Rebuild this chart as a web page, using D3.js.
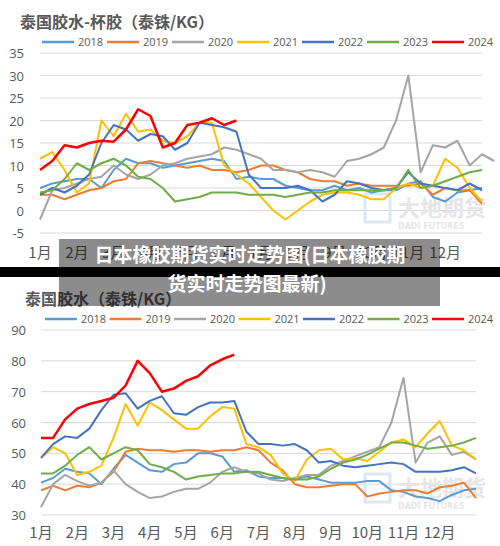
<!DOCTYPE html><html><head><meta charset="utf-8"><script src="https://cdn.jsdelivr.net/npm/d3@7"></script>
<style>body{margin:0;background:#fff}svg{display:block;font-family:"Noto Sans CJK SC",sans-serif}</style></head><body><svg id="c" width="500" height="546"></svg>
<script>
const years=["2018","2019","2020","2021","2022","2023","2024"];
const colors=["#5B9BD5","#ED7D31","#A5A5A5","#FFC000","#4472C4","#70AD47","#FF0000"];
const months=["1月","2月","3月","4月","5月","6月","7月","8月","9月","10月","11月","12月"];
const topTicks=[35,30,25,20,15,10,5,0,-5];
const botTicks=[90,80,70,60,50,40,30];
// values sampled every 1/3 month from Jan 1
const cup2018=[5,6,6.5,7,7,5,9,11.5,10.5,10.5,9.5,10,10.5,11,11.5,11,7,7.5,7,7,5.5,5,4.5,4.5,5.5,4.5,5,4,4.5,4.5,6,6.5,3,2,4,4.5,5];
const cup2019=[3.5,3.5,2.5,3.5,4.5,5,6.5,7,10.5,11,10.5,10,9.5,10,9,9,8.5,9,10,10,9,8.5,7,6.5,6.5,5.5,6,5.5,5.5,5.5,5.5,6,3.5,5,4.5,4.5,1.5];
const cup2020=[-2,4.5,5,6,7,7.5,10,8,7,8,10,10.5,11.5,12,12.5,14,13.5,12.5,11.5,9,9,8.5,9,8.5,7.5,11,11.5,12.5,14,20,30,8.5,14.5,14,15.5,10,12.5,11];
const cup2021=[11.5,13,9,4,6,20,16.5,21.5,17.5,18,15.5,15,16.5,19.5,19.5,10,8,6,3,0,-2,0,2,3.5,4,4,3.5,2.5,2.5,5,6,5,5.5,11.5,9.5,5,2];
const cup2022=[3.5,5,4,5.5,8,15,19,18,15.5,17,16.5,13.5,15,19.5,19,18.5,17.5,8,5,5,5,5.5,4.5,2,3.5,6.5,6,5,4.5,5,8.5,6,5.5,5,4.5,6,4.5];
const cup2023=[4,4.5,7,10.5,9,10.5,11.5,10,7.5,7,5,2,2.5,3,4,4,4,3.5,3.5,3.5,3,3.5,4,4,4.5,4.5,4.5,4.5,4.5,5,9,5,5.5,6.5,7.5,8.5,9];
const cup2024=[9,11,14.5,14,15,15.5,15.3,18,22.5,21,14,15,19,19.5,20.5,19,20];
const lat2018=[40.5,42,45,44,43.5,40,45,49.5,47,44.5,44,46.5,47,50,50,49,44,44.5,42.5,42,42,41.5,42.5,41.5,40.5,40.5,40.5,41,41,38,37.5,36,35.5,34.5,36.5,38,38.5];
const lat2019=[38,39.5,38,39.5,39,40.5,44,50.5,51.5,51,51,50.5,51,51,50.5,51,51,52,51,47,44.5,40,39,39,39.5,40,40,36,37,37.5,38,38,37,39,39.5,40.5,35.5];
const lat2020=[32.5,40,43,41,39.5,40.5,44.5,40,37.5,35.5,36,37.5,38.5,38.5,40.5,44,45.5,44,43.5,41.5,41,42,43,43,46,47.5,49,50.5,52,60,74.5,47,53.5,55.5,49.5,50.5,48];
const lat2021=[48.5,52,50,43,44,46,55,66,59,66.5,64,61,58,58,62,65,64.5,53,52,49.5,43.5,41,48,51,51.5,48,48.5,47.5,50.5,53.5,54.5,52,56.5,60.5,52.5,51,48];
const lat2022=[48.5,53,55.5,55,58,64,69,69.5,64.5,67,68.5,63,62.5,65,66.5,66.5,67,57,53,53,52.5,53,51,47,47.5,46,45.5,46,46.5,47,46.5,44,44,44,44.5,45.5,43.5];
const lat2023=[43.5,43.5,46,49.5,52,48,50,52,51,46.5,45.5,44,41.5,42.5,43,43.5,43.5,44,44,43,42,41.5,41.5,42.5,45,47,48,49.5,51.5,53.5,53.5,52.5,51.5,52,52.5,53.5,55];
const lat2024=[55,55,61,64.5,66,67,68,72,80,76,70,71,73.5,75,78.5,80.5,82];
const cupSeries=[cup2018,cup2019,cup2020,cup2021,cup2022,cup2023,cup2024];
const latSeries=[lat2018,lat2019,lat2020,lat2021,lat2022,lat2023,lat2024];

const svg=d3.select("#c");
function panel(o){
  const g=svg.append("g");
  const x=d3.scaleLinear().domain([0,12]).range([o.x0,o.x1]);
  const y=d3.scaleLinear().domain(o.dom).range([o.yb,o.yt]);
  g.append("text").attr("x",o.tx).attr("y",o.ty).attr("font-size",16).attr("font-weight","bold").attr("fill","#595959").text(o.title);
  o.ticks.forEach(t=>{
    g.append("line").attr("x1",o.x0).attr("x2",o.x1).attr("y1",y(t)).attr("y2",y(t)).attr("stroke","#d9d9d9");
    g.append("text").attr("x",o.lx).attr("y",y(t)+5).attr("text-anchor","end").attr("font-size",13).attr("fill","#595959").attr("font-family","Open Sans").text(t);
  });
  months.forEach((m,i)=>g.append("text").attr("x",x(i)).attr("y",o.my).attr("text-anchor","middle").attr("font-size",15).attr("fill","#595959").text(m));
  g.append("text").attr("x",o.wx).attr("y",o.wy).attr("font-size",22).attr("font-weight","bold").attr("fill","#e6e6e6").text("大地期货");
  g.append("text").attr("x",o.wx).attr("y",o.wy+13).attr("font-size",8).attr("font-weight","bold").attr("fill","#e6e6e6").attr("font-family","DejaVu Sans").text("DADI FUTURES");
  g.append("rect").attr("x",o.wx-33).attr("y",o.wy-22).attr("width",25).attr("height",28).attr("fill","none").attr("stroke","#dfe6ef").attr("stroke-width",3);
  years.forEach((yr,i)=>{
    const lx=o.legx+i*o.legs;
    g.append("line").attr("x1",lx).attr("x2",lx+32).attr("y1",o.legy).attr("y2",o.legy).attr("stroke",colors[i]).attr("stroke-width",2.5);
    g.append("text").attr("x",lx+36).attr("y",o.legy+4).attr("font-size",11).attr("fill","#595959").attr("font-family","Open Sans").text(yr);
  });
  const line=d3.line().x((d,i)=>x(i/3)).y(d=>y(d));
  o.series.forEach((s,i)=>g.append("path").attr("d",line(s)).attr("fill","none").attr("stroke",colors[i]).attr("stroke-width",i==6?2.5:2).attr("stroke-linejoin","round"));
}
panel({title:"泰国胶水-杯胶（泰铢/KG）",tx:20,ty:28,x0:40,x1:482,dom:[-5,35],yb:233,yt:53,ticks:topTicks,lx:24,my:258,legx:42,legy:42,legs:65,series:cupSeries,wx:398,wy:216});
panel({title:"泰国胶水（泰铢/KG）",tx:25,ty:305,x0:41,x1:476,dom:[30,90],yb:515,yt:330,ticks:botTicks,lx:26,my:538,legx:45,legy:319,legs:64.5,series:latSeries,wx:398,wy:496});
svg.append("rect").attr("x",0).attr("y",267).attr("width",500).attr("height",10).attr("fill","#000");
svg.append("rect").attr("x",59).attr("y",239).attr("width",381).attr("height",67).attr("fill","#000").attr("opacity",0.45);
svg.append("text").attr("x",250).attr("y",262).attr("text-anchor","middle").attr("font-size",19).attr("font-weight","bold").attr("fill","#fff").text("日本橡胶期货实时走势图(日本橡胶期");
svg.append("text").attr("x",247).attr("y",291).attr("text-anchor","middle").attr("font-size",19).attr("font-weight","bold").attr("fill","#fff").text("货实时走势图最新)");
</script></body></html>
